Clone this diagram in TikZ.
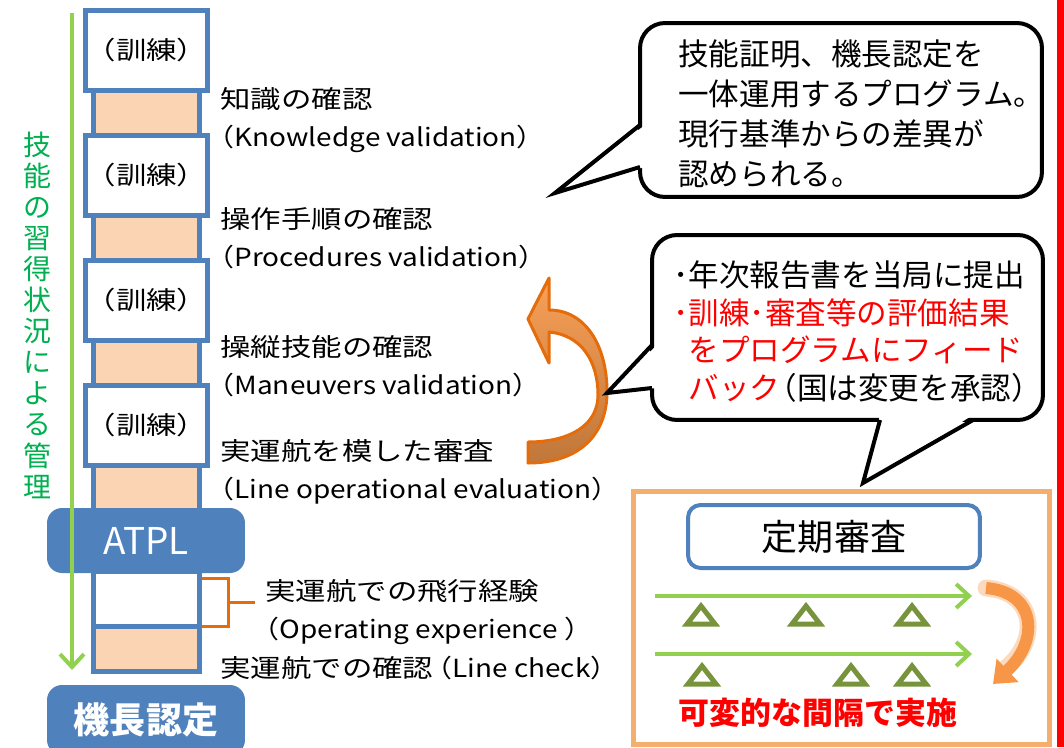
\documentclass[tikz,border=0pt]{standalone}
\usepackage{fontspec}
\setmainfont{Noto Sans CJK JP}
\newfontfamily\jp{Noto Sans CJK JP}
\newfontfamily\jpw[FakeStretch=1.22]{Noto Sans CJK JP}
\newfontfamily\jpn[FakeStretch=1.12]{Noto Sans CJK JP}
\usepackage{tikz}
\usetikzlibrary{arrows.meta, positioning}

\definecolor{cellblue}{HTML}{4F81BD}
\definecolor{peach}{HTML}{FBD4B4}
\definecolor{growgreen}{HTML}{92D050}
\definecolor{textgreen}{HTML}{00B050}
\definecolor{olive}{HTML}{77933C}
\definecolor{darkorange}{HTML}{E46C0A}
\definecolor{lightorange}{HTML}{F79646}
\definecolor{brownorange}{HTML}{C0773A}
\definecolor{frameorange}{HTML}{F4AE6E}

\begin{document}
\begin{tikzpicture}[
  x=0.02cm, y=-0.02cm,
  cell/.style={rectangle, draw=cellblue, line width=0.1cm, fill=white,
               minimum width=2.12cm, inner sep=0pt, outer sep=0pt,
               font=\fontsize{14.2}{17}\jpw},
  badge/.style={rectangle, rounded corners=0.3cm, fill=cellblue, text=white,
                minimum width=3.96cm, inner sep=0pt},
  lbl/.style={font=\fontsize{14.2}{21.3}\jpw, align=left, anchor=west, inner sep=0pt},
  progress/.style={draw=growgreen, line width=0.08cm,
               -{Straight Barb[length=0.26cm, width=0.48cm]}},
  bracket/.style={draw=darkorange, line width=0.06cm},
  note/.style={rectangle, rounded corners=0.5cm, draw=black, line width=0.08cm,
               fill=white, inner sep=0pt},
  notetext/.style={align=left, anchor=west, inner sep=0pt},
  pointer/.style={draw=black, line width=0.08cm, line join=miter},
  tri/.style={draw=olive, line width=0.1cm, line join=miter},
]
  \useasboundingbox (0,0) rectangle (1064,747);

  % training column
  \foreach \k in {0,...,3}{
    \node[cell, minimum height=1.6cm] (w\k) at (146.5, 50.5+125*\k) {（訓練）};
    \node[cell, fill=peach, minimum height=0.9cm] (p\k) at (146.5, 113+125*\k) {};
  }
  \node[cell, minimum height=1.1cm] (w4) at (146.5, 598.5) {};
  \node[cell, fill=peach, minimum height=0.9cm] (p4) at (146.5, 648.5) {};

  \node[badge, minimum height=1.3cm, font=\fontsize{21}{22}\jp] (atpl) at (146, 540.5) {ATPL};
  \node[badge, minimum height=1.4cm, font=\fontsize{20.5}{22}\jp\bfseries] (captain) at (146, 720) {機長認定};

  % progress arrow
  \coordinate (gtop) at (72,13);
  \coordinate (gbot) at (72,670);
  \draw[progress] (gtop) -- (gbot);
  \node[font=\fontsize{15.9}{17.7}\jp, text=textgreen, align=center, inner sep=0pt] (skill) at (37,315)
    {技\\能\\の\\習\\得\\状\\況\\に\\よ\\る\\管\\理};

  % checks
  \node[lbl] (knowledge) at (220,120) {知識の確認\\\jpn\hspace*{-0.55em}（Knowledge validation）};
  \node[lbl] (procedures) at (220,238) {操作手順の確認\\\jpn\hspace*{-0.55em}（Procedures validation）};
  \node[lbl] (maneuvers) at (220,366) {操縦技能の確認\\\jpn\hspace*{-0.55em}（Maneuvers validation）};
  \node[lbl] (loe) at (220,472) {実運航を模した審査\\\jpn\hspace*{-0.55em}（Line operational evaluation）};
  \node[lbl] (opexp) at (265,612) {実運航での飛行経験\\\jpn\hspace*{-0.55em}（Operating experience ）};
  \node[lbl] (linecheck) at (220,668) {実運航での確認{\jpn\hspace*{-0.35em}（Line check）}};

  \coordinate (brtop) at (202,578);
  \coordinate (brbot) at (202,626);
  \coordinate (brmid) at (228,602);
  \draw[bracket] (brtop) -- (228,578) -- (228,626) -- (brbot);
  \draw[bracket] (brmid) -- (255,602);

  % feedback arrow
  \draw[draw=darkorange, line width=0.06cm, line join=round,
        top color=lightorange!90!white, bottom color=brownorange]
    (549,278) -- (528,319) -- (549,363) -- (549,332)
    .. controls (582,335) and (598,362) .. (598,395)
    .. controls (598,425) and (570,442) .. (528,442) -- (528,463)
    .. controls (582,463) and (607,432) .. (607,392)
    .. controls (607,345) and (585,310) .. (549,310) -- cycle;

  % callouts
  \node[note, minimum width=8.04cm, minimum height=3.48cm] (note1) at (841,110) {};
  \fill[white] (645,125) -- (555,193) -- (645,167) -- cycle;
  \draw[pointer] (640,125) -- (555,193) -- (640,167);
  \node[notetext, font=\fontsize{17.4}{22.7}\jp] (note1text) at (678,114)
    {技能証明、機長認定を\\一体運用するプログラム。\\現行基準からの差異が\\認められる。};

  \node[note, minimum width=7.82cm, minimum height=3.7cm] (note2) at (847.5,327.5) {};
  \fill[white] (657,345) -- (607,393) -- (657,388) -- cycle;
  \draw[pointer] (652,345) -- (607,393) -- (652,388);
  \fill[white] (880,415) -- (863,483) -- (973,415) -- cycle;
  \draw[pointer] (880,420) -- (863,483) -- (973,420);
  \node[notetext, font=\fontsize{17.4}{21.4}\jp] (note2text) at (673,331.5)
    {･年次報告書を当局に提出\\
     \textcolor{red}{･訓練･審査等の評価結果}\\
     \textcolor{red}{\phantom{･}をプログラムにフィード}\\
     \textcolor{red}{\phantom{･}バック}\hspace*{-0.45em}（国は変更を承認）};

  % periodic review
  \node[rectangle, draw=frameorange, line width=0.1cm, minimum width=8.34cm,
        minimum height=5.08cm] (review) at (841.5,618) {};
  \node[rectangle, rounded corners=0.25cm, draw=cellblue, line width=0.08cm,
        minimum width=5.84cm, minimum height=1.26cm,
        font=\fontsize{20.5}{22}\jp] (periodic) at (834,536.5) {定期審査};

  \coordinate (r1a) at (655,596);
  \coordinate (r1b) at (972,596);
  \coordinate (r2a) at (655,654);
  \coordinate (r2b) at (972,654);
  \draw[progress] (r1a) -- (r1b);
  \draw[progress] (r2a) -- (r2b);

  \foreach \x/\y in {701/616, 806/616, 912/616, 702/676, 851/676, 912/676}
    \draw[tri] (\x-14,\y+8) -- (\x,\y-10) -- (\x+14,\y+8) -- cycle;

  \draw[lightorange!35, line width=0.34cm, line cap=round]
    (986,588) .. controls (1036,592) and (1040,640) .. (1006,668);
  \draw[lightorange, line width=0.24cm, -{Triangle[length=0.4cm, width=0.62cm]}]
    (986,588) .. controls (1036,592) and (1040,640) .. (993,684);

  \node[font=\fontsize{17.6}{19}\jp\bfseries, text=red, inner sep=0pt] (variable) at (818,713)
    {可変的な間隔で実施};

  % right edge bar
  \fill[red] (1057,0) rectangle (1064,747);
\end{tikzpicture}
\end{document}
